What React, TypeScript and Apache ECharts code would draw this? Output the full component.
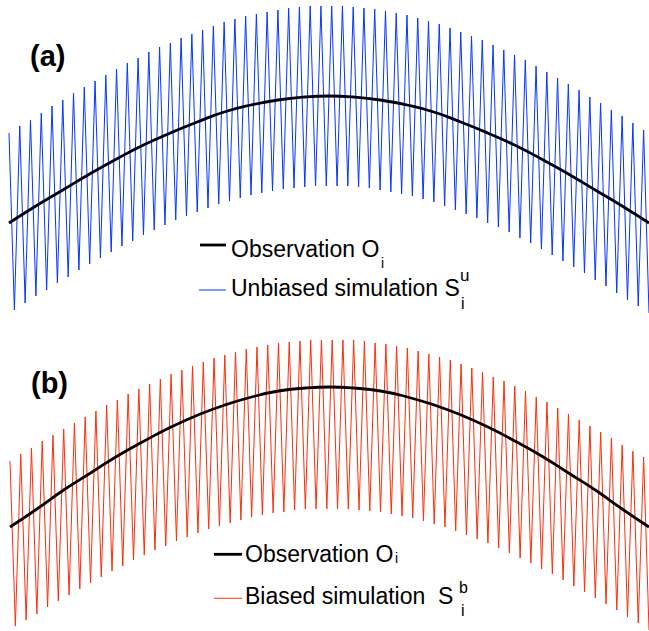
import React, { useEffect, useRef } from "react";
import * as echarts from "echarts";

// Sample index of each observation reading (time step i)
const obsIndex = [0, 5, 10, 15, 20, 25, 30, 35, 40, 45, 50, 55, 59.5, 64, 69, 74, 79, 84, 89, 94, 99, 104, 109, 114, 119];
// Panel (a) observation O_i
const obsA = [0, 0.17, 0.33, 0.49, 0.64, 0.78, 0.9, 1.01, 1.11, 1.18, 1.23, 1.26, 1.27, 1.26, 1.23, 1.18, 1.11, 1.01, 0.9, 0.78, 0.64, 0.49, 0.33, 0.17, 0];
// Panel (b) observation O_i
const obsB = [0, 0.18, 0.37, 0.54, 0.71, 0.86, 1.0, 1.12, 1.22, 1.3, 1.36, 1.39, 1.4, 1.39, 1.36, 1.3, 1.22, 1.12, 1.0, 0.86, 0.71, 0.54, 0.37, 0.18, 0];

// Panel (a) unbiased simulation S_i^u, i = 0..119
const simU = [
  0.90, -0.87, 0.97, -0.80, 1.03, -0.73, 1.10, -0.67, 1.17, -0.60,
  1.23, -0.54, 1.30, -0.47, 1.36, -0.41, 1.42, -0.35, 1.48, -0.29,
  1.54, -0.23, 1.60, -0.18, 1.65, -0.12, 1.71, -0.07, 1.76, -0.02,
  1.80, 0.03, 1.85, 0.07, 1.89, 0.11, 1.93, 0.15, 1.97, 0.19,
  2.01, 0.22, 2.04, 0.25, 2.07, 0.28, 2.09, 0.30, 2.11, 0.32,
  2.13, 0.34, 2.15, 0.35, 2.16, 0.36, 2.17, 0.37, 2.17, 0.37,
  2.17, 0.37, 2.17, 0.37, 2.16, 0.36, 2.15, 0.35, 2.14, 0.33,
  2.12, 0.31, 2.10, 0.29, 2.08, 0.27, 2.05, 0.24, 2.02, 0.21,
  1.99, 0.17, 1.95, 0.13, 1.91, 0.09, 1.87, 0.05, 1.83, 0.00,
  1.78, -0.04, 1.73, -0.09, 1.68, -0.15, 1.63, -0.20, 1.57, -0.26,
  1.51, -0.32, 1.45, -0.38, 1.39, -0.44, 1.33, -0.50, 1.26, -0.57,
  1.20, -0.63, 1.13, -0.70, 1.07, -0.77, 1.00, -0.83, 0.93, -0.90,
];

// Panel (b) biased simulation S_i^b, i = 0..119
const simB = [
  0.66, -0.99, 0.73, -0.93, 0.79, -0.87, 0.86, -0.80, 0.92, -0.74,
  0.98, -0.68, 1.04, -0.62, 1.10, -0.56, 1.16, -0.50, 1.22, -0.44,
  1.27, -0.39, 1.33, -0.33, 1.38, -0.28, 1.43, -0.23, 1.48, -0.19,
  1.53, -0.14, 1.57, -0.10, 1.61, -0.06, 1.65, -0.02, 1.69, 0.01,
  1.72, 0.04, 1.75, 0.07, 1.78, 0.10, 1.80, 0.12, 1.82, 0.14,
  1.84, 0.15, 1.85, 0.17, 1.86, 0.18, 1.87, 0.18, 1.87, 0.18,
  1.87, 0.18, 1.87, 0.18, 1.87, 0.17, 1.86, 0.16, 1.84, 0.15,
  1.83, 0.13, 1.81, 0.11, 1.79, 0.09, 1.76, 0.06, 1.73, 0.03,
  1.70, 0.00, 1.67, -0.04, 1.63, -0.08, 1.59, -0.12, 1.55, -0.16,
  1.50, -0.21, 1.46, -0.26, 1.41, -0.31, 1.36, -0.36, 1.30, -0.42,
  1.25, -0.47, 1.19, -0.53, 1.13, -0.59, 1.07, -0.65, 1.01, -0.71,
  0.95, -0.77, 0.89, -0.83, 0.82, -0.90, 0.76, -0.96, 0.70, -1.03,
];

const panelLabels = ["(a)", "(b)"];
const legendObs = "Observation O";
const legendSimU = "Unbiased simulation S";
const legendSimB = "Biased simulation";
const symS = "S";

const FONT = "'Liberation Sans', Arial, Helvetica, sans-serif";
const BLUE = "#0536ff";
const RED = "#ff2d0a";

function txt(x: number, y: number, text: string, fontSize: number, fontWeight: string = "normal") {
  return {
    type: "text",
    x,
    y,
    silent: true,
    style: {
      text,
      fontSize,
      fontWeight,
      fontFamily: FONT,
      fill: "#000",
      align: "left",
      verticalAlign: "middle",
    },
  };
}

function seg(x1: number, x2: number, y: number, color: string, w: number) {
  return {
    type: "line",
    silent: true,
    shape: { x1, y1: y, x2, y2: y },
    style: { stroke: color, lineWidth: w },
  };
}

export default function App() {
  const ref = useRef<HTMLDivElement>(null);

  useEffect(() => {
    if (!ref.current) return;
    const chart = echarts.init(ref.current, null, { renderer: "svg" });
    const pairs = (arr: number[]) => arr.map((v, i) => [i, v]);
    const obsPairs = (arr: number[]) => arr.map((v, k) => [obsIndex[k], v]);

    chart.setOption({
      animation: false,
      backgroundColor: "#ffffff",
      grid: [
        { left: 9, top: 3, width: 641.4, height: 320 },
        { left: 10, top: 327, width: 641.4, height: 304 },
      ],
      xAxis: [
        { type: "value", gridIndex: 0, min: 0, max: 119, show: false },
        { type: "value", gridIndex: 1, min: 0, max: 119, show: false },
      ],
      yAxis: [
        { type: "value", gridIndex: 0, min: -1, max: 2.2, show: false },
        { type: "value", gridIndex: 1, min: -1.04, max: 2.0, show: false },
      ],
      series: [
        {
          name: "Unbiased simulation S_i^u",
          type: "line",
          xAxisIndex: 0,
          yAxisIndex: 0,
          data: pairs(simU),
          showSymbol: false,
          lineStyle: { color: BLUE, width: 1 },
        },
        {
          name: "Observation O_i (a)",
          type: "line",
          xAxisIndex: 0,
          yAxisIndex: 0,
          data: obsPairs(obsA),
          smooth: true,
          showSymbol: false,
          lineStyle: { color: "#000", width: 2.8 },
        },
        {
          name: "Biased simulation S_i^b",
          type: "line",
          xAxisIndex: 1,
          yAxisIndex: 1,
          data: pairs(simB),
          showSymbol: false,
          lineStyle: { color: RED, width: 1 },
        },
        {
          name: "Observation O_i (b)",
          type: "line",
          xAxisIndex: 1,
          yAxisIndex: 1,
          data: obsPairs(obsB),
          smooth: true,
          showSymbol: false,
          lineStyle: { color: "#000", width: 2.8 },
        },
      ],
      graphic: [
        txt(30, 56, panelLabels[0], 29, "bold"),
        txt(31, 383, panelLabels[1], 29, "bold"),
        // legend (a)
        seg(200, 226, 245, "#000", 2.8),
        txt(231, 249, legendObs, 23),
        txt(381, 263, "i", 14),
        seg(199, 226, 290, BLUE, 1),
        txt(231, 287.5, legendSimU, 23),
        txt(460, 275, "u", 17),
        txt(461, 303, "i", 16),
        // legend (b)
        seg(214, 242, 554.3, "#000", 2.8),
        txt(245, 553.5, legendObs, 23),
        txt(395, 558, "i", 14),
        seg(214, 242, 598.3, RED, 1),
        txt(245, 596, legendSimB, 23),
        txt(438, 596, symS, 23),
        txt(459, 587, "b", 16),
        txt(461, 610, "i", 16),
      ],
    });
    return () => chart.dispose();
  }, []);

  return (
    <div
      ref={ref}
      style={{ position: "fixed", left: 0, top: 0, width: 649, height: 631, background: "#fff" }}
    />
  );
}
